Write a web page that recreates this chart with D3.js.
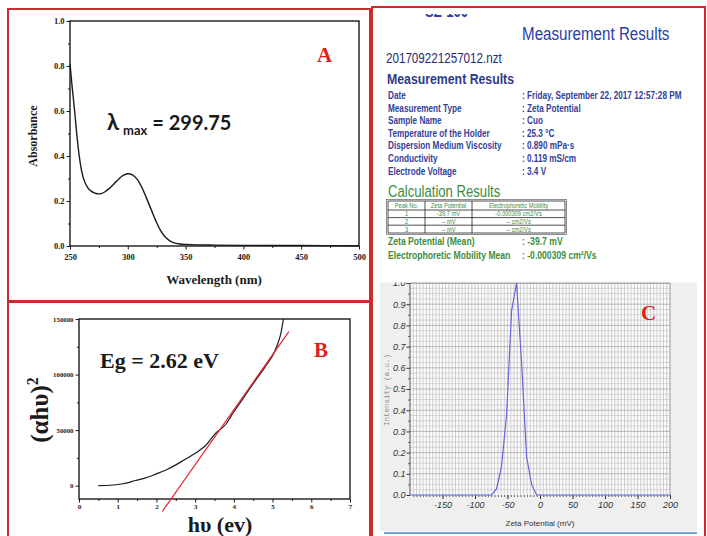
<!DOCTYPE html>
<html>
<head>
<meta charset="utf-8">
<script src="https://cdn.jsdelivr.net/npm/d3@7"></script>
<style>
  html, body { margin: 0; padding: 0; background: #fff; }
  svg { display: block; }
</style>
</head>
<body>
<svg id="fig" width="707" height="536"></svg>
<script>
// ---------- Panel A: UV-Vis absorbance spectrum ----------
const wavelengthNm = [250, 252, 254, 256, 258, 260, 262, 265, 268, 271, 274, 277, 280, 284, 288, 292, 296, 300, 304, 308, 312, 316, 320, 324, 328, 332, 336, 340, 345, 350, 360, 375, 400, 450, 500];
const absorbance   = [0.81, 0.70, 0.60, 0.49, 0.40, 0.335, 0.295, 0.262, 0.245, 0.236, 0.232, 0.233, 0.240, 0.256, 0.276, 0.297, 0.314, 0.321, 0.316, 0.297, 0.262, 0.215, 0.165, 0.115, 0.072, 0.042, 0.024, 0.014, 0.009, 0.007, 0.005, 0.004, 0.003, 0.002, 0.001];
const wavelengthTicks = [250, 300, 350, 400, 450, 500];
const absorbanceTicks = [0, 0.2, 0.4, 0.6, 0.8, 1.0];
const lambdaMax = "299.75";

// ---------- Panel B: Tauc plot ----------
const photonEnergyEv = [0.5, 0.7, 0.9, 1.1, 1.3, 1.4, 1.5, 1.7, 1.9, 2.1, 2.3, 2.5, 2.7, 2.9, 3.1, 3.25, 3.35, 3.45, 3.55, 3.7, 3.8, 3.9, 4.0, 4.2, 4.4, 4.6, 4.8, 5.0, 5.1, 5.2, 5.28];
const taucValues     = [0, 150, 600, 1500, 2900, 4200, 5000, 6800, 9200, 12000, 15000, 18700, 22800, 27000, 31500, 35500, 39500, 44000, 48000, 52000, 55500, 61000, 66500, 76500, 86800, 96800, 106500, 117000, 124500, 135000, 150000];
const bandGapEv = 2.62;
const tangentSlope = 49500;          // (αhν)² per eV
const tangentRangeEv = [2.15, 5.42];
const energyTicks = [0, 1, 2, 3, 4, 5, 6, 7];
const taucTicks = [0, 50000, 100000, 150000];

// ---------- Panel C: zeta potential distribution ----------
const zetaMv        = [-200, -74.5, -66.8, -59.1, -51.4, -43.7, -36, -28.3, -20.6, -12.9, -5.2, 200];
const zetaIntensity = [0, 0, 0.03, 0.135, 0.38, 0.87, 1.0, 0.62, 0.18, 0.05, 0, 0];
const zetaTicks = [-150, -100, -50, 0, 50, 100, 150, 200];
const intensityTicks = [0, 0.1, 0.2, 0.3, 0.4, 0.5, 0.6, 0.7, 0.8, 0.9, 1.0];

// ---------- Measurement report ----------
const reportFields = ["Date", "Measurement Type", "Sample Name", "Temperature of the Holder", "Dispersion Medium Viscosity", "Conductivity", "Electrode Voltage"];
const reportValues = ["Friday, September 22, 2017 12:57:28 PM", "Zeta Potential", "Cuo", "25.3 °C", "0.890 mPa·s", "0.119 mS/cm", "3.4 V"];
const peakHeaders = ["Peak No.", "Zeta Potential", "Electrophoretic Mobility"];
const peakRows = [["1", "-39.7 mV", "-0.000309 cm2/Vs"], ["2", "-- mV", "-- cm2/Vs"], ["3", "-- mV", "-- cm2/Vs"]];
const meanFields = ["Zeta Potential (Mean)", "Electrophoretic Mobility Mean"];
const meanValues = ["-39.7 mV", "-0.000309 cm²/Vs"];

// ---------- shared styles ----------
const SERIF = "'Liberation Serif','Times New Roman',serif";
const SANS = "'Liberation Sans',Arial,sans-serif";
const RED = "#d02a2a";
const INK = "#1a1a1a";
const svg = d3.select("#fig");

// panel frames
svg.append("rect").attr("x", 8).attr("y", 9).attr("width", 362).attr("height", 292)
  .attr("fill", "none").attr("stroke", RED).attr("stroke-width", 2);
svg.append("rect").attr("x", 8).attr("y", 302).attr("width", 362).attr("height", 250)
  .attr("fill", "none").attr("stroke", RED).attr("stroke-width", 2);
svg.append("rect").attr("x", 372).attr("y", 7).attr("width", 333).attr("height", 545)
  .attr("fill", "none").attr("stroke", RED).attr("stroke-width", 2);

function styleAxis(g, font, size, weight, style, color) {
  g.select(".domain").remove();
  g.selectAll("line").attr("stroke", color).attr("stroke-width", 1);
  g.selectAll("text").attr("font-family", font).attr("font-size", size)
    .attr("font-weight", weight).attr("font-style", style).attr("fill", color);
}
const plain = d => String(+d.toFixed(1));

// ================= Panel A =================
{
  const x = d3.scaleLinear().domain([250, 500]).range([70, 359]);
  const y = d3.scaleLinear().domain([0, 1]).range([246, 21]);
  const g = svg.append("g");

  const minorX = d3.range(275, 500, 50);
  const minorY = d3.range(0.1, 1, 0.2);
  g.append("g").attr("transform", "translate(0,246)")
    .call(d3.axisBottom(x).tickValues(minorX).tickSize(2).tickFormat(""))
    .call(a => styleAxis(a, SERIF, 8, "bold", "normal", INK));
  g.append("g").attr("transform", "translate(70,0)")
    .call(d3.axisLeft(y).tickValues(minorY).tickSize(2).tickFormat(""))
    .call(a => styleAxis(a, SERIF, 8, "bold", "normal", INK));
  g.append("g").attr("transform", "translate(0,246)")
    .call(d3.axisBottom(x).tickValues(wavelengthTicks).tickSize(3.5).tickPadding(4).tickFormat(d3.format("d")))
    .call(a => styleAxis(a, SERIF, 8.5, "bold", "normal", INK));
  g.append("g").attr("transform", "translate(70,0)")
    .call(d3.axisLeft(y).tickValues(absorbanceTicks).tickSize(3.5).tickPadding(2).tickFormat(d3.format(".1f")))
    .call(a => styleAxis(a, SERIF, 8.5, "bold", "normal", INK));

  g.append("rect").attr("x", 70).attr("y", 21).attr("width", 289).attr("height", 225)
    .attr("fill", "none").attr("stroke", INK).attr("stroke-width", 1.4);

  g.append("path")
    .datum(wavelengthNm.map((w, i) => [w, absorbance[i]]))
    .attr("d", d3.line().x(d => x(d[0])).y(d => y(d[1])).curve(d3.curveCatmullRom))
    .attr("fill", "none").attr("stroke", INK).attr("stroke-width", 1.4);

  g.append("text").attr("x", 214).attr("y", 284).attr("text-anchor", "middle")
    .attr("font-family", SERIF).attr("font-weight", "bold").attr("font-size", 13)
    .attr("fill", INK).text("Wavelength (nm)");
  g.append("text").attr("transform", "translate(37,136) rotate(-90)").attr("text-anchor", "middle")
    .attr("font-family", SERIF).attr("font-weight", "bold").attr("font-size", 12)
    .attr("fill", INK).text("Absorbance");

  const lam = g.append("text").attr("x", 107).attr("y", 130)
    .attr("font-family", "Lato,'Open Sans',sans-serif").attr("font-weight", "bold")
    .attr("font-size", 20).attr("fill", INK);
  lam.append("tspan").attr("font-size", 22).text("λ");
  lam.append("tspan").attr("font-size", 13).attr("dy", 5).attr("dx", 4).text("max");
  lam.append("tspan").attr("dy", -5).text(" = " + lambdaMax);

  g.append("text").attr("x", 317).attr("y", 62).attr("font-family", SERIF)
    .attr("font-weight", "bold").attr("font-size", 21).attr("fill", "#e0201e").text("A");
}

// ================= Panel B =================
{
  const x = d3.scaleLinear().domain([0, 7]).range([79, 350]);
  const y = d3.scaleLinear().domain([-12000, 150000]).range([499, 319]);
  const g = svg.append("g");

  g.append("clipPath").attr("id", "clipB").append("rect")
    .attr("x", 79).attr("y", 319).attr("width", 271).attr("height", 180);

  g.append("g").attr("transform", "translate(0,499)")
    .call(d3.axisBottom(x).tickValues(d3.range(0.5, 7, 1)).tickSize(2).tickFormat(""))
    .call(a => styleAxis(a, SERIF, 7, "bold", "normal", INK));
  g.append("g").attr("transform", "translate(79,0)")
    .call(d3.axisLeft(y).tickValues(d3.range(25000, 150000, 50000)).tickSize(2).tickFormat(""))
    .call(a => styleAxis(a, SERIF, 7, "bold", "normal", INK));
  g.append("g").attr("transform", "translate(0,499)")
    .call(d3.axisBottom(x).tickValues(energyTicks).tickSize(3.5).tickPadding(2).tickFormat(d3.format("d")))
    .call(a => styleAxis(a, SERIF, 7, "bold", "normal", INK));
  g.append("g").attr("transform", "translate(79,0)")
    .call(d3.axisLeft(y).tickValues(taucTicks).tickSize(3.5).tickPadding(2).tickFormat(d3.format("d")))
    .call(a => styleAxis(a, SERIF, 6.8, "bold", "normal", INK));

  g.append("rect").attr("x", 79).attr("y", 319).attr("width", 271).attr("height", 180)
    .attr("fill", "none").attr("stroke", INK).attr("stroke-width", 1.4);

  g.append("path")
    .datum(photonEnergyEv.map((e, i) => [e, taucValues[i]]))
    .attr("clip-path", "url(#clipB)")
    .attr("d", d3.line().x(d => x(d[0])).y(d => y(d[1])).curve(d3.curveCatmullRom))
    .attr("fill", "none").attr("stroke", INK).attr("stroke-width", 1.2);

  // linear extrapolation of the absorption edge to the band gap
  g.append("path")
    .datum(tangentRangeEv.map(e => [e, tangentSlope * (e - bandGapEv)]))
    .attr("d", d3.line().x(d => x(d[0])).y(d => y(d[1])))
    .attr("fill", "none").attr("stroke", "#e8232a").attr("stroke-width", 1.2);

  g.append("text").attr("x", 100).attr("y", 368).attr("font-family", SERIF)
    .attr("font-weight", "bold").attr("font-size", 22).attr("fill", INK)
    .text("Eg = " + bandGapEv + " eV");
  g.append("text").attr("x", 314).attr("y", 357).attr("font-family", SERIF)
    .attr("font-weight", "bold").attr("font-size", 21).attr("fill", "#e0201e").text("B");

  const yl = g.append("text").attr("transform", "translate(48,410) rotate(-90)")
    .attr("text-anchor", "middle").attr("font-family", SERIF).attr("font-weight", "bold")
    .attr("font-size", 25).attr("fill", INK);
  yl.append("tspan").text("(αhυ)");
  yl.append("tspan").attr("font-size", 16).attr("dy", -10).text("2");

  g.append("text").attr("x", 220).attr("y", 532).attr("text-anchor", "middle")
    .attr("font-family", SERIF).attr("font-weight", "bold").attr("font-size", 22)
    .attr("fill", INK).text("hυ (ev)");
}

// ================= Measurement report =================
{
  const g = svg.append("g");
  const narrow = (x, y, str, size, color, weight, anchor) =>
    g.append("text").attr("transform", `translate(${x},${y}) scale(0.82,1)`)
      .attr("font-family", SANS).attr("font-size", size).attr("font-weight", weight || "normal")
      .attr("text-anchor", anchor || "start").attr("fill", color).text(str);

  // instrument name, its upper part hidden above the frame
  g.append("clipPath").attr("id", "clipHead").append("rect")
    .attr("x", 380).attr("y", 14).attr("width", 200).attr("height", 10);
  g.append("g").attr("clip-path", "url(#clipHead)")
    .append("text").attr("transform", "translate(425,16.8) scale(0.82,1)")
    .attr("font-family", SANS).attr("font-weight", "bold").attr("font-size", 16)
    .attr("fill", "#2a3da8").text("SZ-100");

  narrow(522, 40, "Measurement Results", 18.5, "#2a3da8", "normal");
  narrow(386, 63, "201709221257012.nzt", 14.2, "#1f2b78", "normal");
  narrow(387, 84, "Measurement Results", 15, "#2c3a8e", "bold");

  const rowY = i => 99 + i * 12.6;
  reportFields.forEach((f, i) => narrow(388, rowY(i), f, 10, "#33409a", "bold"));
  reportValues.forEach((v, i) => narrow(522, rowY(i), ":  " + v, 10, "#33409a", "bold"));

  const GREEN = "#3d8c3d";
  narrow(388, 197, "Calculation Results", 16, GREEN, "normal");

  // peak table
  const colX = [388, 425, 472, 565];
  const rowLines = [201, 210, 217.6, 225.2, 233];
  rowLines.forEach(yy => g.append("line").attr("x1", colX[0]).attr("x2", colX[3])
    .attr("y1", yy).attr("y2", yy).attr("stroke", "#222").attr("stroke-width", 0.8));
  colX.forEach(xx => g.append("line").attr("x1", xx).attr("x2", xx)
    .attr("y1", rowLines[0]).attr("y2", rowLines[4]).attr("stroke", "#222").attr("stroke-width", 0.8));
  g.append("rect").attr("x", colX[0] - 1.5).attr("y", rowLines[0] - 1.5)
    .attr("width", colX[3] - colX[0] + 3).attr("height", rowLines[4] - rowLines[0] + 3)
    .attr("fill", "none").attr("stroke", "#444").attr("stroke-width", 0.6);
  const colMid = i => (colX[i] + colX[i + 1]) / 2;
  peakHeaders.forEach((h, i) => narrow(colMid(i), 208.3, h, 7, GREEN, "normal", "middle"));
  peakRows.forEach((r, j) => r.forEach((c, i) =>
    narrow(colMid(i), (rowLines[j + 1] + rowLines[j + 2]) / 2 + 2.5, c, 7, GREEN, "normal", "middle")));

  meanFields.forEach((f, i) => narrow(388, 245 + i * 13.5, f, 10.5, GREEN, "bold"));
  meanValues.forEach((v, i) => narrow(522, 245 + i * 13.5, ":  " + v, 10.5, GREEN, "bold"));
}

// ================= Panel C =================
{
  const x = d3.scaleLinear().domain([-200, 200]).range([410, 670]);
  const y = d3.scaleLinear().domain([0, 1]).range([495, 283]);
  svg.append("clipPath").attr("id", "clipC").append("rect")
    .attr("x", 374).attr("y", 282.5).attr("width", 330).attr("height", 255);
  const g = svg.append("g").attr("clip-path", "url(#clipC)");

  g.append("rect").attr("x", 380).attr("y", 281).attr("width", 317).attr("height", 250).attr("fill", "#efefef");
  g.append("rect").attr("x", 410).attr("y", 283).attr("width", 260).attr("height", 212).attr("fill", "#fbfbfb");

  // dense grid
  g.append("g").selectAll("line").data(d3.range(-195, 200, 5)).join("line")
    .attr("x1", d => x(d)).attr("x2", d => x(d)).attr("y1", y(0)).attr("y2", y(1))
    .attr("stroke", "#c4c4c4").attr("stroke-width", 0.8);
  g.append("g").selectAll("line").data(d3.range(1, 41)).join("line")
    .attr("x1", x(-200)).attr("x2", x(200))
    .attr("y1", d => y(d * 0.025)).attr("y2", d => y(d * 0.025))
    .attr("stroke", d => d % 4 === 0 ? "#a8a8a8" : "#cbcbcb").attr("stroke-width", 0.8);

  g.append("line").attr("x1", x(-200)).attr("x2", x(200)).attr("y1", y(1)).attr("y2", y(1))
    .attr("stroke", "#888").attr("stroke-width", 1);
  g.append("line").attr("x1", x(200)).attr("x2", x(200)).attr("y1", y(0)).attr("y2", y(1))
    .attr("stroke", "#999").attr("stroke-width", 1);

  g.append("g").attr("transform", "translate(0,495)")
    .call(d3.axisBottom(x).tickValues(d3.range(-195, 200, 5)).tickSize(2).tickFormat(""))
    .call(a => styleAxis(a, SANS, 9, "normal", "italic", "#666"));
  g.append("g").attr("transform", "translate(0,495)")
    .call(d3.axisBottom(x).tickValues(zetaTicks).tickSize(4).tickPadding(3).tickFormat(plain))
    .call(a => styleAxis(a, SANS, 9, "normal", "italic", "#333"));
  g.append("g").attr("transform", "translate(410,0)")
    .call(d3.axisLeft(y).tickValues(d3.range(0.05, 1, 0.1)).tickSize(2).tickFormat(""))
    .call(a => styleAxis(a, SANS, 9, "normal", "italic", "#666"));
  g.append("g").attr("transform", "translate(410,0)")
    .call(d3.axisLeft(y).tickValues(intensityTicks).tickSize(3.5).tickPadding(1).tickFormat(d3.format(".1f")))
    .call(a => styleAxis(a, SANS, 9, "normal", "italic", "#333"));
  g.append("line").attr("x1", 410).attr("x2", 410).attr("y1", y(0)).attr("y2", y(1))
    .attr("stroke", "#555").attr("stroke-width", 1);

  g.append("path")
    .datum(zetaMv.map((z, i) => [z, zetaIntensity[i]]))
    .attr("d", d3.line().x(d => x(d[0])).y(d => y(d[1])))
    .attr("fill", "none").attr("stroke", "#6464dc").attr("stroke-width", 1.2);

  g.append("text").attr("x", 540).attr("y", 526).attr("text-anchor", "middle")
    .attr("font-family", SANS).attr("font-size", 8).attr("fill", "#333").text("Zeta Potential (mV)");
  g.append("text").attr("transform", "translate(389,390) rotate(-90)").attr("text-anchor", "middle")
    .attr("font-family", "'Liberation Mono','Courier New',monospace").attr("font-size", 7.5)
    .attr("fill", "#8a8a8a").text("Intensity (a.u.)");

  g.append("text").attr("x", 641).attr("y", 320).attr("font-family", SERIF)
    .attr("font-weight", "bold").attr("font-size", 21).attr("fill", "#e0201e").text("C");

  svg.append("line").attr("x1", 384).attr("x2", 697).attr("y1", 533).attr("y2", 533)
    .attr("stroke", "#6fa3d8").attr("stroke-width", 2);
}
</script>
</body>
</html>
